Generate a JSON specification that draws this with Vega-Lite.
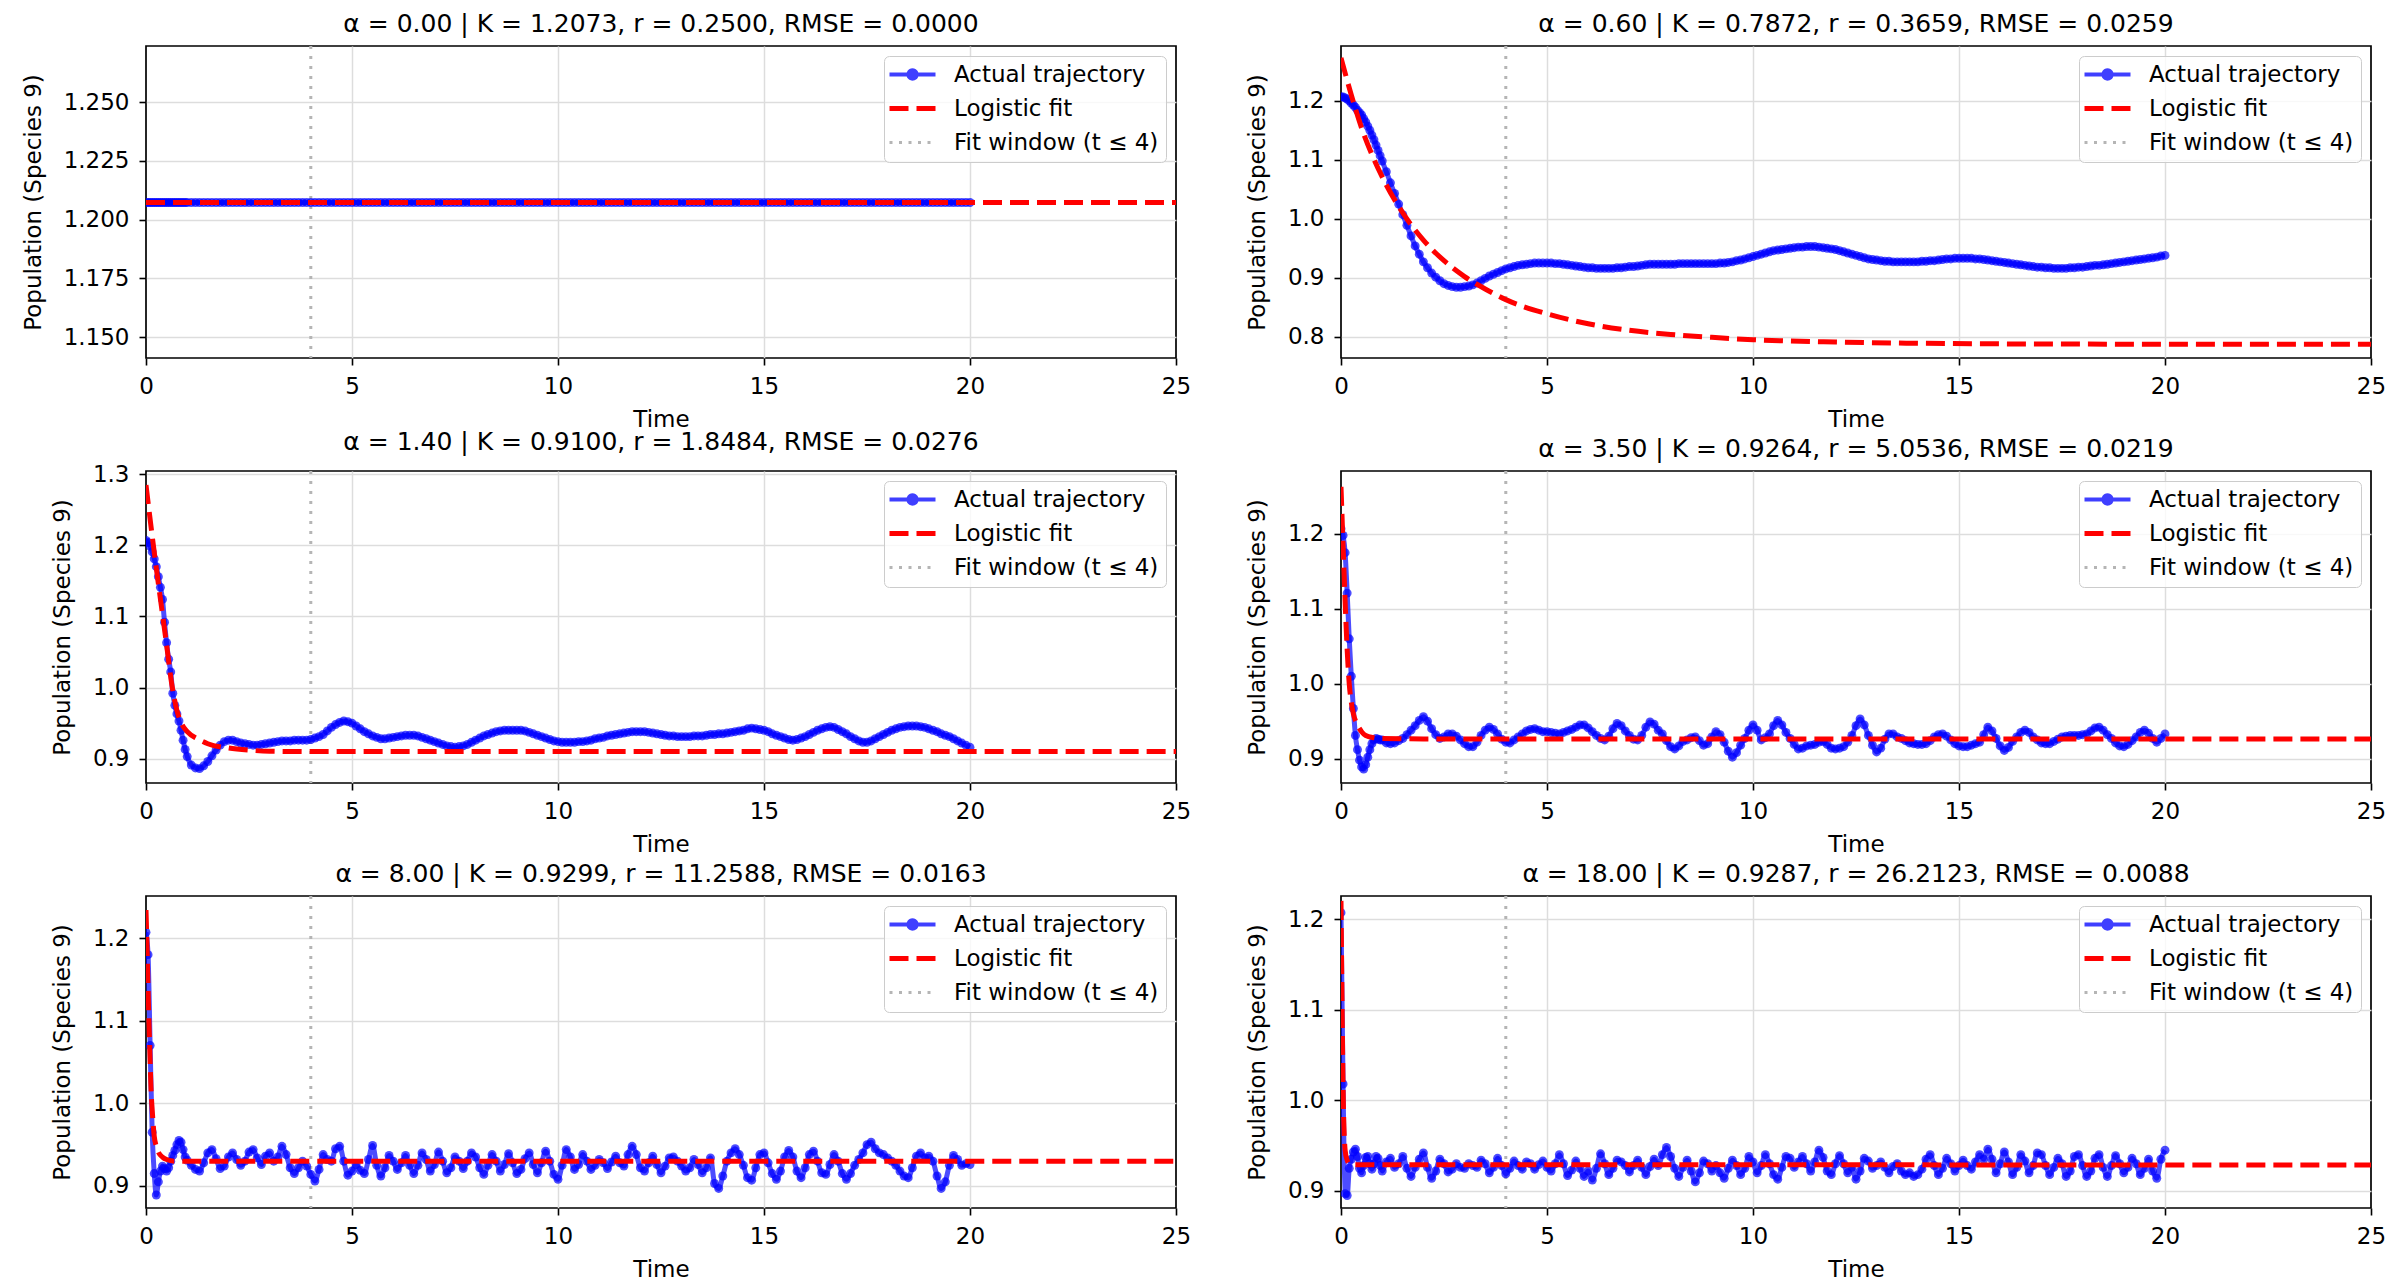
{
  "$schema": "https://vega.github.io/schema/vega-lite/v6.json",
  "background": "white",
  "padding": {"left": 21, "top": 10, "right": 0, "bottom": 0},
  "datasets": {
    "traj": [
      {"t":0,"a":1.2073,"b":1.207,"c":1.207,"d":1.207,"e":1.207,"f":1.207},
      {"t":0.05,"a":1.2073,"b":1.2065,"c":1.204,"d":1.198,"e":1.18,"f":1.018},
      {"t":0.1,"a":1.2073,"b":1.205,"c":1.199,"d":1.175,"e":1.07,"f":0.897},
      {"t":0.15,"a":1.2073,"b":1.203,"c":1.191,"d":1.121,"e":0.965,"f":0.895},
      {"t":0.2,"a":1.2073,"b":1.2,"c":1.181,"d":1.06,"e":0.915,"f":0.925},
      {"t":0.25,"a":1.2073,"b":1.196,"c":1.17,"d":1.01,"e":0.889,"f":0.935},
      {"t":0.3,"a":1.2073,"b":1.193,"c":1.156,"d":0.967,"e":0.905,"f":0.943},
      {"t":0.35,"a":1.2073,"b":1.189,"c":1.141,"d":0.931,"e":0.918,"f":0.946},
      {"t":0.4,"a":1.2073,"b":1.184,"c":1.124,"d":0.912,"e":0.924,"f":0.938},
      {"t":0.45,"a":1.2073,"b":1.18,"c":1.092,"d":0.898,"e":0.921,"f":0.925},
      {"t":0.5,"a":1.2073,"b":1.176,"c":1.063,"d":0.889,"e":0.918,"f":0.92},
      {"t":0.55,"a":1.2073,"b":1.17,"c":1.04,"d":0.886,"e":0.922,"f":0.928},
      {"t":0.6,"a":1.2073,"b":1.164,"c":1.022,"d":0.892,"e":0.93,"f":0.937},
      {"t":0.65,"a":1.2073,"b":1.157,"c":0.992,"d":0.902,"e":0.937,"f":0.938},
      {"t":0.7,"a":1.2073,"b":1.15,"c":0.975,"d":0.912,"e":0.943,"f":0.93},
      {"t":0.75,"a":1.2073,"b":1.142,"c":0.963,"d":0.92,"e":0.95,"f":0.924},
      {"t":0.8,"a":1.2073,"b":1.134,"c":0.953,"d":0.925,"e":0.955,"f":0.93},
      {"t":0.85,"a":1.2073,"b":1.125,"c":0.94,"d":0.927,"e":0.953,"f":0.938},
      {"t":0.9,"a":1.2073,"b":1.116,"c":0.926,"d":0.926,"e":0.944,"f":0.936},
      {"t":0.95,"a":1.2073,"b":1.107,"c":0.913,"d":0.925,"e":0.935,"f":0.928},
      {"t":1.0,"a":1.2073,"b":1.098,"c":0.903,"d":0.925,"e":0.931,"f":0.922},
      {"t":1.1,"a":1.2073,"b":1.08,"c":0.891,"d":0.921,"e":0.925,"f":0.932},
      {"t":1.2,"a":1.2073,"b":1.061,"c":0.887,"d":0.92,"e":0.92,"f":0.936},
      {"t":1.3,"a":1.2073,"b":1.043,"c":0.886,"d":0.921,"e":0.918,"f":0.926},
      {"t":1.4,"a":1.2073,"b":1.025,"c":0.89,"d":0.924,"e":0.928,"f":0.93},
      {"t":1.5,"a":1.2073,"b":1.007,"c":0.896,"d":0.927,"e":0.94,"f":0.938},
      {"t":1.6,"a":1.2073,"b":0.989,"c":0.904,"d":0.932,"e":0.944,"f":0.925},
      {"t":1.7,"a":1.2073,"b":0.971,"c":0.912,"d":0.938,"e":0.933,"f":0.916},
      {"t":1.8,"a":1.2073,"b":0.954,"c":0.919,"d":0.944,"e":0.921,"f":0.926},
      {"t":1.9,"a":1.2073,"b":0.94,"c":0.924,"d":0.951,"e":0.924,"f":0.935},
      {"t":2.0,"a":1.2073,"b":0.927,"c":0.926,"d":0.956,"e":0.935,"f":0.942},
      {"t":2.1,"a":1.2073,"b":0.917,"c":0.926,"d":0.95,"e":0.94,"f":0.926},
      {"t":2.2,"a":1.2073,"b":0.908,"c":0.924,"d":0.94,"e":0.932,"f":0.914},
      {"t":2.3,"a":1.2073,"b":0.901,"c":0.922,"d":0.932,"e":0.925,"f":0.922},
      {"t":2.4,"a":1.2073,"b":0.895,"c":0.921,"d":0.927,"e":0.93,"f":0.935},
      {"t":2.5,"a":1.2073,"b":0.89,"c":0.92,"d":0.929,"e":0.941,"f":0.93},
      {"t":2.6,"a":1.2073,"b":0.887,"c":0.919,"d":0.933,"e":0.944,"f":0.921},
      {"t":2.7,"a":1.2073,"b":0.885,"c":0.919,"d":0.933,"e":0.934,"f":0.924},
      {"t":2.8,"a":1.2073,"b":0.884,"c":0.92,"d":0.93,"e":0.926,"f":0.93},
      {"t":2.9,"a":1.2073,"b":0.884,"c":0.921,"d":0.925,"e":0.936,"f":0.926},
      {"t":3.0,"a":1.2073,"b":0.885,"c":0.922,"d":0.92,"e":0.94,"f":0.925},
      {"t":3.1,"a":1.2073,"b":0.886,"c":0.923,"d":0.916,"e":0.93,"f":0.93},
      {"t":3.2,"a":1.2073,"b":0.888,"c":0.924,"d":0.916,"e":0.935,"f":0.928},
      {"t":3.3,"a":1.2073,"b":0.891,"c":0.925,"d":0.922,"e":0.948,"f":0.926},
      {"t":3.4,"a":1.2073,"b":0.895,"c":0.925,"d":0.931,"e":0.938,"f":0.934},
      {"t":3.5,"a":1.2073,"b":0.899,"c":0.925,"d":0.938,"e":0.922,"f":0.93},
      {"t":3.6,"a":1.2073,"b":0.903,"c":0.926,"d":0.942,"e":0.915,"f":0.92},
      {"t":3.7,"a":1.2073,"b":0.906,"c":0.926,"d":0.939,"e":0.922,"f":0.926},
      {"t":3.8,"a":1.2073,"b":0.909,"c":0.926,"d":0.933,"e":0.93,"f":0.936},
      {"t":3.9,"a":1.2073,"b":0.912,"c":0.926,"d":0.926,"e":0.924,"f":0.928},
      {"t":4.0,"a":1.2073,"b":0.915,"c":0.927,"d":0.922,"e":0.914,"f":0.919},
      {"t":4.1,"a":1.2073,"b":0.917,"c":0.929,"d":0.921,"e":0.906,"f":0.925},
      {"t":4.2,"a":1.2073,"b":0.919,"c":0.931,"d":0.925,"e":0.92,"f":0.933},
      {"t":4.3,"a":1.2073,"b":0.921,"c":0.934,"d":0.929,"e":0.938,"f":0.928},
      {"t":4.4,"a":1.2073,"b":0.922,"c":0.939,"d":0.933,"e":0.932,"f":0.924},
      {"t":4.5,"a":1.2073,"b":0.923,"c":0.944,"d":0.937,"e":0.93,"f":0.932},
      {"t":4.6,"a":1.2073,"b":0.924,"c":0.948,"d":0.939,"e":0.945,"f":0.93},
      {"t":4.7,"a":1.2073,"b":0.925,"c":0.951,"d":0.94,"e":0.948,"f":0.924},
      {"t":4.8,"a":1.2073,"b":0.925,"c":0.953,"d":0.938,"e":0.93,"f":0.929},
      {"t":4.9,"a":1.2073,"b":0.925,"c":0.952,"d":0.936,"e":0.913,"f":0.933},
      {"t":5.0,"a":1.2073,"b":0.925,"c":0.95,"d":0.936,"e":0.918,"f":0.926},
      {"t":5.1,"a":1.2073,"b":0.925,"c":0.946,"d":0.935,"e":0.926,"f":0.922},
      {"t":5.2,"a":1.2073,"b":0.924,"c":0.942,"d":0.934,"e":0.919,"f":0.93},
      {"t":5.3,"a":1.2073,"b":0.924,"c":0.938,"d":0.933,"e":0.915,"f":0.94},
      {"t":5.4,"a":1.2073,"b":0.923,"c":0.935,"d":0.935,"e":0.932,"f":0.93},
      {"t":5.5,"a":1.2073,"b":0.922,"c":0.932,"d":0.937,"e":0.949,"f":0.917},
      {"t":5.6,"a":1.2073,"b":0.921,"c":0.93,"d":0.939,"e":0.925,"f":0.923},
      {"t":5.7,"a":1.2073,"b":0.92,"c":0.928,"d":0.942,"e":0.912,"f":0.933},
      {"t":5.8,"a":1.2073,"b":0.919,"c":0.928,"d":0.945,"e":0.922,"f":0.925},
      {"t":5.9,"a":1.2073,"b":0.918,"c":0.929,"d":0.945,"e":0.937,"f":0.916},
      {"t":6.0,"a":1.2073,"b":0.917,"c":0.93,"d":0.941,"e":0.93,"f":0.922},
      {"t":6.1,"a":1.2073,"b":0.917,"c":0.931,"d":0.936,"e":0.92,"f":0.912},
      {"t":6.2,"a":1.2073,"b":0.916,"c":0.932,"d":0.931,"e":0.928,"f":0.925},
      {"t":6.3,"a":1.2073,"b":0.916,"c":0.933,"d":0.927,"e":0.937,"f":0.941},
      {"t":6.4,"a":1.2073,"b":0.916,"c":0.933,"d":0.925,"e":0.925,"f":0.93},
      {"t":6.5,"a":1.2073,"b":0.916,"c":0.933,"d":0.93,"e":0.915,"f":0.918},
      {"t":6.6,"a":1.2073,"b":0.916,"c":0.932,"d":0.94,"e":0.925,"f":0.925},
      {"t":6.7,"a":1.2073,"b":0.917,"c":0.93,"d":0.947,"e":0.94,"f":0.934},
      {"t":6.8,"a":1.2073,"b":0.917,"c":0.928,"d":0.944,"e":0.932,"f":0.932},
      {"t":6.9,"a":1.2073,"b":0.918,"c":0.926,"d":0.937,"e":0.918,"f":0.928},
      {"t":7.0,"a":1.2073,"b":0.919,"c":0.924,"d":0.931,"e":0.926,"f":0.921},
      {"t":7.1,"a":1.2073,"b":0.919,"c":0.922,"d":0.926,"e":0.941,"f":0.928},
      {"t":7.2,"a":1.2073,"b":0.92,"c":0.92,"d":0.925,"e":0.93,"f":0.934},
      {"t":7.3,"a":1.2073,"b":0.921,"c":0.918,"d":0.931,"e":0.916,"f":0.926},
      {"t":7.4,"a":1.2073,"b":0.922,"c":0.917,"d":0.942,"e":0.922,"f":0.918},
      {"t":7.5,"a":1.2073,"b":0.923,"c":0.916,"d":0.949,"e":0.935,"f":0.927},
      {"t":7.6,"a":1.2073,"b":0.923,"c":0.917,"d":0.946,"e":0.93,"f":0.935},
      {"t":7.7,"a":1.2073,"b":0.923,"c":0.918,"d":0.938,"e":0.921,"f":0.928},
      {"t":7.8,"a":1.2073,"b":0.923,"c":0.92,"d":0.933,"e":0.93,"f":0.94},
      {"t":7.9,"a":1.2073,"b":0.923,"c":0.923,"d":0.924,"e":0.94,"f":0.948},
      {"t":8.0,"a":1.2073,"b":0.923,"c":0.926,"d":0.916,"e":0.935,"f":0.938},
      {"t":8.1,"a":1.2073,"b":0.923,"c":0.929,"d":0.913,"e":0.922,"f":0.925},
      {"t":8.2,"a":1.2073,"b":0.924,"c":0.932,"d":0.917,"e":0.914,"f":0.916},
      {"t":8.3,"a":1.2073,"b":0.924,"c":0.934,"d":0.923,"e":0.925,"f":0.926},
      {"t":8.4,"a":1.2073,"b":0.924,"c":0.936,"d":0.925,"e":0.938,"f":0.934},
      {"t":8.5,"a":1.2073,"b":0.924,"c":0.938,"d":0.928,"e":0.93,"f":0.922},
      {"t":8.6,"a":1.2073,"b":0.924,"c":0.939,"d":0.929,"e":0.918,"f":0.91},
      {"t":8.7,"a":1.2073,"b":0.924,"c":0.94,"d":0.924,"e":0.926,"f":0.92},
      {"t":8.8,"a":1.2073,"b":0.924,"c":0.94,"d":0.918,"e":0.939,"f":0.933},
      {"t":8.9,"a":1.2073,"b":0.924,"c":0.94,"d":0.92,"e":0.928,"f":0.93},
      {"t":9.0,"a":1.2073,"b":0.924,"c":0.94,"d":0.929,"e":0.915,"f":0.922},
      {"t":9.1,"a":1.2073,"b":0.924,"c":0.94,"d":0.936,"e":0.92,"f":0.928},
      {"t":9.2,"a":1.2073,"b":0.925,"c":0.939,"d":0.932,"e":0.933,"f":0.92},
      {"t":9.3,"a":1.2073,"b":0.925,"c":0.937,"d":0.922,"e":0.94,"f":0.914},
      {"t":9.4,"a":1.2073,"b":0.926,"c":0.935,"d":0.91,"e":0.926,"f":0.925},
      {"t":9.5,"a":1.2073,"b":0.927,"c":0.933,"d":0.902,"e":0.916,"f":0.934},
      {"t":9.6,"a":1.2073,"b":0.929,"c":0.931,"d":0.908,"e":0.928,"f":0.928},
      {"t":9.7,"a":1.2073,"b":0.93,"c":0.929,"d":0.918,"e":0.942,"f":0.918},
      {"t":9.8,"a":1.2073,"b":0.932,"c":0.927,"d":0.927,"e":0.93,"f":0.925},
      {"t":9.9,"a":1.2073,"b":0.934,"c":0.925,"d":0.938,"e":0.914,"f":0.938},
      {"t":10.0,"a":1.2073,"b":0.936,"c":0.924,"d":0.945,"e":0.908,"f":0.932},
      {"t":10.1,"a":1.2073,"b":0.938,"c":0.923,"d":0.938,"e":0.925,"f":0.92},
      {"t":10.2,"a":1.2073,"b":0.94,"c":0.923,"d":0.925,"e":0.944,"f":0.928},
      {"t":10.3,"a":1.2073,"b":0.942,"c":0.923,"d":0.928,"e":0.935,"f":0.94},
      {"t":10.4,"a":1.2073,"b":0.944,"c":0.923,"d":0.933,"e":0.92,"f":0.93},
      {"t":10.5,"a":1.2073,"b":0.946,"c":0.924,"d":0.944,"e":0.926,"f":0.918},
      {"t":10.6,"a":1.2073,"b":0.947,"c":0.924,"d":0.951,"e":0.938,"f":0.913},
      {"t":10.7,"a":1.2073,"b":0.948,"c":0.925,"d":0.945,"e":0.93,"f":0.926},
      {"t":10.8,"a":1.2073,"b":0.949,"c":0.926,"d":0.935,"e":0.92,"f":0.938},
      {"t":10.9,"a":1.2073,"b":0.95,"c":0.928,"d":0.927,"e":0.925,"f":0.936},
      {"t":11.0,"a":1.2073,"b":0.951,"c":0.929,"d":0.919,"e":0.932,"f":0.926},
      {"t":11.1,"a":1.2073,"b":0.952,"c":0.93,"d":0.913,"e":0.928,"f":0.932},
      {"t":11.2,"a":1.2073,"b":0.952,"c":0.932,"d":0.914,"e":0.921,"f":0.938},
      {"t":11.3,"a":1.2073,"b":0.953,"c":0.933,"d":0.917,"e":0.929,"f":0.93},
      {"t":11.4,"a":1.2073,"b":0.953,"c":0.934,"d":0.918,"e":0.936,"f":0.922},
      {"t":11.5,"a":1.2073,"b":0.953,"c":0.935,"d":0.919,"e":0.928,"f":0.932},
      {"t":11.6,"a":1.2073,"b":0.952,"c":0.936,"d":0.922,"e":0.924,"f":0.945},
      {"t":11.7,"a":1.2073,"b":0.951,"c":0.937,"d":0.923,"e":0.938,"f":0.937},
      {"t":11.8,"a":1.2073,"b":0.95,"c":0.938,"d":0.919,"e":0.948,"f":0.922},
      {"t":11.9,"a":1.2073,"b":0.949,"c":0.938,"d":0.914,"e":0.938,"f":0.918},
      {"t":12.0,"a":1.2073,"b":0.948,"c":0.938,"d":0.913,"e":0.922,"f":0.93},
      {"t":12.1,"a":1.2073,"b":0.946,"c":0.938,"d":0.914,"e":0.918,"f":0.939},
      {"t":12.2,"a":1.2073,"b":0.944,"c":0.937,"d":0.916,"e":0.928,"f":0.93},
      {"t":12.3,"a":1.2073,"b":0.942,"c":0.936,"d":0.922,"e":0.936,"f":0.92},
      {"t":12.4,"a":1.2073,"b":0.94,"c":0.935,"d":0.931,"e":0.926,"f":0.926},
      {"t":12.5,"a":1.2073,"b":0.938,"c":0.934,"d":0.944,"e":0.916,"f":0.913},
      {"t":12.6,"a":1.2073,"b":0.936,"c":0.933,"d":0.953,"e":0.924,"f":0.922},
      {"t":12.7,"a":1.2073,"b":0.934,"c":0.932,"d":0.945,"e":0.934,"f":0.936},
      {"t":12.8,"a":1.2073,"b":0.932,"c":0.932,"d":0.931,"e":0.935,"f":0.933},
      {"t":12.9,"a":1.2073,"b":0.931,"c":0.931,"d":0.918,"e":0.93,"f":0.925},
      {"t":13.0,"a":1.2073,"b":0.93,"c":0.931,"d":0.909,"e":0.924,"f":0.928},
      {"t":13.1,"a":1.2073,"b":0.929,"c":0.931,"d":0.914,"e":0.918,"f":0.932},
      {"t":13.2,"a":1.2073,"b":0.928,"c":0.931,"d":0.926,"e":0.922,"f":0.926},
      {"t":13.3,"a":1.2073,"b":0.928,"c":0.932,"d":0.933,"e":0.932,"f":0.92},
      {"t":13.4,"a":1.2073,"b":0.927,"c":0.932,"d":0.933,"e":0.926,"f":0.927},
      {"t":13.5,"a":1.2073,"b":0.927,"c":0.932,"d":0.929,"e":0.916,"f":0.93},
      {"t":13.6,"a":1.2073,"b":0.927,"c":0.933,"d":0.927,"e":0.922,"f":0.922},
      {"t":13.7,"a":1.2073,"b":0.927,"c":0.934,"d":0.924,"e":0.934,"f":0.918},
      {"t":13.8,"a":1.2073,"b":0.927,"c":0.934,"d":0.921,"e":0.903,"f":0.92},
      {"t":13.9,"a":1.2073,"b":0.927,"c":0.935,"d":0.92,"e":0.897,"f":0.916},
      {"t":14.0,"a":1.2073,"b":0.927,"c":0.935,"d":0.919,"e":0.912,"f":0.918},
      {"t":14.1,"a":1.2073,"b":0.928,"c":0.936,"d":0.919,"e":0.93,"f":0.924},
      {"t":14.2,"a":1.2073,"b":0.928,"c":0.937,"d":0.92,"e":0.94,"f":0.935},
      {"t":14.3,"a":1.2073,"b":0.929,"c":0.938,"d":0.924,"e":0.945,"f":0.94},
      {"t":14.4,"a":1.2073,"b":0.929,"c":0.939,"d":0.929,"e":0.938,"f":0.928},
      {"t":14.5,"a":1.2073,"b":0.93,"c":0.94,"d":0.932,"e":0.925,"f":0.918},
      {"t":14.6,"a":1.2073,"b":0.931,"c":0.942,"d":0.933,"e":0.91,"f":0.925},
      {"t":14.7,"a":1.2073,"b":0.932,"c":0.943,"d":0.93,"e":0.907,"f":0.936},
      {"t":14.8,"a":1.2073,"b":0.932,"c":0.942,"d":0.925,"e":0.922,"f":0.93},
      {"t":14.9,"a":1.2073,"b":0.933,"c":0.941,"d":0.92,"e":0.938,"f":0.922},
      {"t":15.0,"a":1.2073,"b":0.933,"c":0.94,"d":0.917,"e":0.94,"f":0.928},
      {"t":15.1,"a":1.2073,"b":0.933,"c":0.938,"d":0.916,"e":0.928,"f":0.934},
      {"t":15.2,"a":1.2073,"b":0.933,"c":0.935,"d":0.916,"e":0.915,"f":0.928},
      {"t":15.3,"a":1.2073,"b":0.933,"c":0.933,"d":0.918,"e":0.908,"f":0.924},
      {"t":15.4,"a":1.2073,"b":0.932,"c":0.931,"d":0.92,"e":0.918,"f":0.932},
      {"t":15.5,"a":1.2073,"b":0.932,"c":0.929,"d":0.922,"e":0.935,"f":0.94},
      {"t":15.6,"a":1.2073,"b":0.931,"c":0.927,"d":0.932,"e":0.943,"f":0.935},
      {"t":15.7,"a":1.2073,"b":0.93,"c":0.926,"d":0.942,"e":0.935,"f":0.946},
      {"t":15.8,"a":1.2073,"b":0.929,"c":0.927,"d":0.937,"e":0.918,"f":0.935},
      {"t":15.9,"a":1.2073,"b":0.928,"c":0.929,"d":0.927,"e":0.91,"f":0.92},
      {"t":16.0,"a":1.2073,"b":0.927,"c":0.931,"d":0.917,"e":0.922,"f":0.93},
      {"t":16.1,"a":1.2073,"b":0.926,"c":0.934,"d":0.911,"e":0.938,"f":0.943},
      {"t":16.2,"a":1.2073,"b":0.925,"c":0.937,"d":0.915,"e":0.942,"f":0.932},
      {"t":16.3,"a":1.2073,"b":0.924,"c":0.94,"d":0.923,"e":0.93,"f":0.918},
      {"t":16.4,"a":1.2073,"b":0.923,"c":0.942,"d":0.929,"e":0.916,"f":0.926},
      {"t":16.5,"a":1.2073,"b":0.922,"c":0.944,"d":0.935,"e":0.914,"f":0.94},
      {"t":16.6,"a":1.2073,"b":0.921,"c":0.945,"d":0.938,"e":0.926,"f":0.933},
      {"t":16.7,"a":1.2073,"b":0.92,"c":0.944,"d":0.935,"e":0.938,"f":0.92},
      {"t":16.8,"a":1.2073,"b":0.919,"c":0.941,"d":0.929,"e":0.93,"f":0.928},
      {"t":16.9,"a":1.2073,"b":0.918,"c":0.938,"d":0.925,"e":0.915,"f":0.942},
      {"t":17.0,"a":1.2073,"b":0.918,"c":0.935,"d":0.921,"e":0.908,"f":0.94},
      {"t":17.1,"a":1.2073,"b":0.917,"c":0.931,"d":0.92,"e":0.915,"f":0.928},
      {"t":17.2,"a":1.2073,"b":0.917,"c":0.928,"d":0.92,"e":0.925,"f":0.918},
      {"t":17.3,"a":1.2073,"b":0.916,"c":0.925,"d":0.923,"e":0.932,"f":0.926},
      {"t":17.4,"a":1.2073,"b":0.916,"c":0.923,"d":0.926,"e":0.94,"f":0.936},
      {"t":17.5,"a":1.2073,"b":0.916,"c":0.923,"d":0.929,"e":0.95,"f":0.93},
      {"t":17.6,"a":1.2073,"b":0.916,"c":0.925,"d":0.93,"e":0.953,"f":0.916},
      {"t":17.7,"a":1.2073,"b":0.917,"c":0.928,"d":0.931,"e":0.945,"f":0.922},
      {"t":17.8,"a":1.2073,"b":0.917,"c":0.931,"d":0.931,"e":0.94,"f":0.938},
      {"t":17.9,"a":1.2073,"b":0.918,"c":0.934,"d":0.931,"e":0.938,"f":0.94},
      {"t":18.0,"a":1.2073,"b":0.918,"c":0.937,"d":0.932,"e":0.934,"f":0.928},
      {"t":18.1,"a":1.2073,"b":0.919,"c":0.94,"d":0.933,"e":0.93,"f":0.916},
      {"t":18.2,"a":1.2073,"b":0.92,"c":0.942,"d":0.937,"e":0.925,"f":0.922},
      {"t":18.3,"a":1.2073,"b":0.921,"c":0.944,"d":0.941,"e":0.918,"f":0.936},
      {"t":18.4,"a":1.2073,"b":0.921,"c":0.945,"d":0.942,"e":0.912,"f":0.94},
      {"t":18.5,"a":1.2073,"b":0.922,"c":0.946,"d":0.938,"e":0.91,"f":0.926},
      {"t":18.6,"a":1.2073,"b":0.923,"c":0.946,"d":0.932,"e":0.922,"f":0.916},
      {"t":18.7,"a":1.2073,"b":0.924,"c":0.946,"d":0.927,"e":0.936,"f":0.928},
      {"t":18.8,"a":1.2073,"b":0.925,"c":0.945,"d":0.921,"e":0.94,"f":0.939},
      {"t":18.9,"a":1.2073,"b":0.926,"c":0.944,"d":0.917,"e":0.934,"f":0.93},
      {"t":19.0,"a":1.2073,"b":0.927,"c":0.942,"d":0.916,"e":0.936,"f":0.92},
      {"t":19.1,"a":1.2073,"b":0.928,"c":0.94,"d":0.919,"e":0.93,"f":0.926},
      {"t":19.2,"a":1.2073,"b":0.929,"c":0.938,"d":0.924,"e":0.912,"f":0.936},
      {"t":19.3,"a":1.2073,"b":0.93,"c":0.935,"d":0.929,"e":0.897,"f":0.93},
      {"t":19.4,"a":1.2073,"b":0.931,"c":0.933,"d":0.935,"e":0.905,"f":0.918},
      {"t":19.5,"a":1.2073,"b":0.932,"c":0.931,"d":0.938,"e":0.925,"f":0.925},
      {"t":19.6,"a":1.2073,"b":0.933,"c":0.928,"d":0.934,"e":0.937,"f":0.935},
      {"t":19.7,"a":1.2073,"b":0.934,"c":0.925,"d":0.927,"e":0.932,"f":0.922},
      {"t":19.8,"a":1.2073,"b":0.935,"c":0.922,"d":0.922,"e":0.925,"f":0.914},
      {"t":19.9,"a":1.2073,"b":0.937,"c":0.919,"d":0.927,"e":0.927,"f":0.935},
      {"t":20.0,"a":1.2073,"b":0.938,"c":0.916,"d":0.933,"e":0.926,"f":0.945}
    ],
    "fit": [
      {"p":1,"t":0,"y":1.2073},{"p":1,"t":25,"y":1.2073},
      {"p":2,"t":0,"y":1.273},{"p":2,"t":0.25,"y":1.21},{"p":2,"t":0.5,"y":1.154},{"p":2,"t":0.75,"y":1.109},
      {"p":2,"t":1,"y":1.071},{"p":2,"t":1.5,"y":1.01},{"p":2,"t":2,"y":0.964},{"p":2,"t":2.5,"y":0.929},
      {"p":2,"t":3,"y":0.902},{"p":2,"t":3.5,"y":0.881},{"p":2,"t":4,"y":0.863},{"p":2,"t":5,"y":0.839},
      {"p":2,"t":6,"y":0.822},{"p":2,"t":7,"y":0.811},{"p":2,"t":8,"y":0.804},{"p":2,"t":9,"y":0.799},
      {"p":2,"t":10,"y":0.795},{"p":2,"t":12,"y":0.791},{"p":2,"t":14,"y":0.789},{"p":2,"t":16,"y":0.788},
      {"p":2,"t":18,"y":0.7876},{"p":2,"t":20,"y":0.7874},{"p":2,"t":25,"y":0.7872},
      {"p":3,"t":0,"y":1.285},{"p":3,"t":0.125,"y":1.225},{"p":3,"t":0.25,"y":1.168},{"p":3,"t":0.375,"y":1.114},
      {"p":3,"t":0.5,"y":1.06},{"p":3,"t":0.625,"y":1.005},{"p":3,"t":0.75,"y":0.968},{"p":3,"t":0.875,"y":0.948},
      {"p":3,"t":1,"y":0.938},{"p":3,"t":1.25,"y":0.928},{"p":3,"t":1.5,"y":0.921},{"p":3,"t":2,"y":0.915},
      {"p":3,"t":2.5,"y":0.912},{"p":3,"t":3,"y":0.9105},{"p":3,"t":4,"y":0.91},{"p":3,"t":25,"y":0.91},
      {"p":4,"t":0,"y":1.263},{"p":4,"t":0.05,"y":1.185},{"p":4,"t":0.1,"y":1.11},{"p":4,"t":0.15,"y":1.045},
      {"p":4,"t":0.2,"y":1.0},{"p":4,"t":0.25,"y":0.975},{"p":4,"t":0.3,"y":0.96},{"p":4,"t":0.4,"y":0.945},
      {"p":4,"t":0.5,"y":0.936},{"p":4,"t":0.6,"y":0.931},{"p":4,"t":0.8,"y":0.928},{"p":4,"t":1,"y":0.927},
      {"p":4,"t":2,"y":0.9264},{"p":4,"t":25,"y":0.9264},
      {"p":5,"t":0,"y":1.234},{"p":5,"t":0.03,"y":1.18},{"p":5,"t":0.06,"y":1.12},{"p":5,"t":0.09,"y":1.068},
      {"p":5,"t":0.12,"y":1.02},{"p":5,"t":0.16,"y":0.985},{"p":5,"t":0.2,"y":0.96},{"p":5,"t":0.25,"y":0.948},
      {"p":5,"t":0.3,"y":0.941},{"p":5,"t":0.4,"y":0.935},{"p":5,"t":0.5,"y":0.932},{"p":5,"t":0.7,"y":0.93},
      {"p":5,"t":1,"y":0.9299},{"p":5,"t":25,"y":0.9299},
      {"p":6,"t":0,"y":1.22},{"p":6,"t":0.02,"y":1.13},{"p":6,"t":0.04,"y":1.05},{"p":6,"t":0.06,"y":0.99},
      {"p":6,"t":0.08,"y":0.96},{"p":6,"t":0.1,"y":0.945},{"p":6,"t":0.15,"y":0.934},{"p":6,"t":0.2,"y":0.93},
      {"p":6,"t":0.3,"y":0.929},{"p":6,"t":25,"y":0.9287}
    ]
  },
  "columns": 2,
  "spacing": {"row": 113, "column": 165},
  "bounds": "flush",
  "resolve": {
    "scale": {"x": "independent", "y": "independent", "color": "independent"},
    "axis": {"x": "independent", "y": "independent"},
    "legend": {"color": "independent"}
  },
  "concat": [
    {
      "title": "α = 0.00 | K = 1.2073, r = 0.2500, RMSE = 0.0000",
      "width": 1030, "height": 312,
      "encoding": {"x": {"field": "t", "type": "quantitative", "title": "Time", "scale": {"domain": [0, 25], "nice": false, "zero": false}, "axis": {"values": [0, 5, 10, 15, 20, 25], "gridOpacity": {"condition": {"test": "datum.value == 0 || datum.value == 25", "value": 0}, "value": 1}}}},
      "layer": [
        {"data": {"values": [{"t": 4}]}, "mark": {"type": "rule", "strokeDash": [3, 7], "strokeWidth": 3},
         "encoding": {"color": {"datum": "Fit window (t ≤ 4)", "scale": {"domain": ["Actual trajectory", "Logistic fit", "Fit window (t ≤ 4)"], "range": ["#0000ff", "#ff0000", "#b5b5b5"]},
           "legend": {"title": null, "orient": "top-right", "offset": 10, "padding": 7, "rowPadding": 10, "fillColor": "rgba(255,255,255,0.8)", "strokeColor": "#cccccc", "cornerRadius": 5, "symbolSize": 529, "symbolOffset": 10, "labelOffset": 30, "labelFontSize": 23, "labelColor": "black", "labelLimit": 400,
             "encode": {"symbols": {"update": {
               "shape": {"signal": "datum.value === 'Actual trajectory' ? 'M-2,0H2M0.36,0A0.36,0.36,0,1,1,-0.36,0A0.36,0.36,0,1,1,0.36,0' : 'M-2,0H2'"},
               "fill": {"signal": "datum.value === 'Actual trajectory' ? '#0000ff' : 'transparent'"},
               "stroke": {"signal": "datum.value === 'Actual trajectory' ? '#0000ff' : datum.value === 'Logistic fit' ? '#ff0000' : '#b5b5b5'"},
               "strokeWidth": {"signal": "datum.value === 'Logistic fit' ? 5 : datum.value === 'Actual trajectory' ? 4 : 3"},
               "strokeDash": {"signal": "datum.value === 'Logistic fit' ? [19, 8] : datum.value === 'Actual trajectory' ? [1, 0] : [3, 6.5]"},
               "opacity": {"signal": "datum.value === 'Actual trajectory' ? 0.75 : 1"}
             }}}}}}},
        {"data": {"name": "traj"}, "mark": {"type": "line", "strokeWidth": 5, "opacity": 0.7, "interpolate": "monotone", "clip": true},
         "encoding": {"y": {"field": "a", "type": "quantitative", "title": "Population (Species 9)", "scale": {"domain": [1.1412, 1.2738], "nice": false, "zero": false}, "axis": {"values": [1.15, 1.175, 1.2, 1.225, 1.25], "format": ".3f"}},
           "color": {"datum": "Actual trajectory", "scale": {"domain": ["Actual trajectory", "Logistic fit", "Fit window (t ≤ 4)"], "range": ["#0000ff", "#ff0000", "#b5b5b5"]}}}},
        {"data": {"name": "traj"}, "mark": {"type": "point", "filled": true, "size": 80, "opacity": 0.7, "strokeWidth": 0, "clip": true},
         "encoding": {"y": {"field": "a", "type": "quantitative", "title": "Population (Species 9)"},
           "color": {"datum": "Actual trajectory", "scale": {"domain": ["Actual trajectory", "Logistic fit", "Fit window (t ≤ 4)"], "range": ["#0000ff", "#ff0000", "#b5b5b5"]}}}},
        {"data": {"name": "fit"}, "transform": [{"filter": "datum.p == 1"}], "mark": {"type": "line", "strokeWidth": 5, "strokeDash": [19, 8], "interpolate": "monotone", "clip": true},
         "encoding": {"y": {"field": "y", "type": "quantitative", "title": "Population (Species 9)"},
           "color": {"datum": "Logistic fit", "scale": {"domain": ["Actual trajectory", "Logistic fit", "Fit window (t ≤ 4)"], "range": ["#0000ff", "#ff0000", "#b5b5b5"]}}}}
      ]
    },
    {
      "title": "α = 0.60 | K = 0.7872, r = 0.3659, RMSE = 0.0259",
      "width": 1030, "height": 312,
      "encoding": {"x": {"field": "t", "type": "quantitative", "title": "Time", "scale": {"domain": [0, 25], "nice": false, "zero": false}, "axis": {"values": [0, 5, 10, 15, 20, 25], "gridOpacity": {"condition": {"test": "datum.value == 0 || datum.value == 25", "value": 0}, "value": 1}}}},
      "layer": [
        {"data": {"values": [{"t": 4}]}, "mark": {"type": "rule", "strokeDash": [3, 7], "strokeWidth": 3},
         "encoding": {"color": {"datum": "Fit window (t ≤ 4)", "scale": {"domain": ["Actual trajectory", "Logistic fit", "Fit window (t ≤ 4)"], "range": ["#0000ff", "#ff0000", "#b5b5b5"]},
           "legend": {"title": null, "orient": "top-right", "offset": 10, "padding": 7, "rowPadding": 10, "fillColor": "rgba(255,255,255,0.8)", "strokeColor": "#cccccc", "cornerRadius": 5, "symbolSize": 529, "symbolOffset": 10, "labelOffset": 30, "labelFontSize": 23, "labelColor": "black", "labelLimit": 400,
             "encode": {"symbols": {"update": {
               "shape": {"signal": "datum.value === 'Actual trajectory' ? 'M-2,0H2M0.36,0A0.36,0.36,0,1,1,-0.36,0A0.36,0.36,0,1,1,0.36,0' : 'M-2,0H2'"},
               "fill": {"signal": "datum.value === 'Actual trajectory' ? '#0000ff' : 'transparent'"},
               "stroke": {"signal": "datum.value === 'Actual trajectory' ? '#0000ff' : datum.value === 'Logistic fit' ? '#ff0000' : '#b5b5b5'"},
               "strokeWidth": {"signal": "datum.value === 'Logistic fit' ? 5 : datum.value === 'Actual trajectory' ? 4 : 3"},
               "strokeDash": {"signal": "datum.value === 'Logistic fit' ? [19, 8] : datum.value === 'Actual trajectory' ? [1, 0] : [3, 6.5]"},
               "opacity": {"signal": "datum.value === 'Actual trajectory' ? 0.75 : 1"}
             }}}}}}},
        {"data": {"name": "traj"}, "mark": {"type": "line", "strokeWidth": 5, "opacity": 0.7, "interpolate": "monotone", "clip": true},
         "encoding": {"y": {"field": "b", "type": "quantitative", "title": "Population (Species 9)", "scale": {"domain": [0.764, 1.293], "nice": false, "zero": false}, "axis": {"values": [0.8, 0.9, 1.0, 1.1, 1.2], "format": ".1f"}},
           "color": {"datum": "Actual trajectory", "scale": {"domain": ["Actual trajectory", "Logistic fit", "Fit window (t ≤ 4)"], "range": ["#0000ff", "#ff0000", "#b5b5b5"]}}}},
        {"data": {"name": "traj"}, "mark": {"type": "point", "filled": true, "size": 80, "opacity": 0.7, "strokeWidth": 0, "clip": true},
         "encoding": {"y": {"field": "b", "type": "quantitative", "title": "Population (Species 9)"},
           "color": {"datum": "Actual trajectory", "scale": {"domain": ["Actual trajectory", "Logistic fit", "Fit window (t ≤ 4)"], "range": ["#0000ff", "#ff0000", "#b5b5b5"]}}}},
        {"data": {"name": "fit"}, "transform": [{"filter": "datum.p == 2"}], "mark": {"type": "line", "strokeWidth": 5, "strokeDash": [19, 8], "interpolate": "monotone", "clip": true},
         "encoding": {"y": {"field": "y", "type": "quantitative", "title": "Population (Species 9)"},
           "color": {"datum": "Logistic fit", "scale": {"domain": ["Actual trajectory", "Logistic fit", "Fit window (t ≤ 4)"], "range": ["#0000ff", "#ff0000", "#b5b5b5"]}}}}
      ]
    },
    {
      "title": "α = 1.40 | K = 0.9100, r = 1.8484, RMSE = 0.0276",
      "width": 1030, "height": 312,
      "encoding": {"x": {"field": "t", "type": "quantitative", "title": "Time", "scale": {"domain": [0, 25], "nice": false, "zero": false}, "axis": {"values": [0, 5, 10, 15, 20, 25], "gridOpacity": {"condition": {"test": "datum.value == 0 || datum.value == 25", "value": 0}, "value": 1}}}},
      "layer": [
        {"data": {"values": [{"t": 4}]}, "mark": {"type": "rule", "strokeDash": [3, 7], "strokeWidth": 3},
         "encoding": {"color": {"datum": "Fit window (t ≤ 4)", "scale": {"domain": ["Actual trajectory", "Logistic fit", "Fit window (t ≤ 4)"], "range": ["#0000ff", "#ff0000", "#b5b5b5"]},
           "legend": {"title": null, "orient": "top-right", "offset": 10, "padding": 7, "rowPadding": 10, "fillColor": "rgba(255,255,255,0.8)", "strokeColor": "#cccccc", "cornerRadius": 5, "symbolSize": 529, "symbolOffset": 10, "labelOffset": 30, "labelFontSize": 23, "labelColor": "black", "labelLimit": 400,
             "encode": {"symbols": {"update": {
               "shape": {"signal": "datum.value === 'Actual trajectory' ? 'M-2,0H2M0.36,0A0.36,0.36,0,1,1,-0.36,0A0.36,0.36,0,1,1,0.36,0' : 'M-2,0H2'"},
               "fill": {"signal": "datum.value === 'Actual trajectory' ? '#0000ff' : 'transparent'"},
               "stroke": {"signal": "datum.value === 'Actual trajectory' ? '#0000ff' : datum.value === 'Logistic fit' ? '#ff0000' : '#b5b5b5'"},
               "strokeWidth": {"signal": "datum.value === 'Logistic fit' ? 5 : datum.value === 'Actual trajectory' ? 4 : 3"},
               "strokeDash": {"signal": "datum.value === 'Logistic fit' ? [19, 8] : datum.value === 'Actual trajectory' ? [1, 0] : [3, 6.5]"},
               "opacity": {"signal": "datum.value === 'Actual trajectory' ? 0.75 : 1"}
             }}}}}}},
        {"data": {"name": "traj"}, "mark": {"type": "line", "strokeWidth": 5, "opacity": 0.7, "interpolate": "monotone", "clip": true},
         "encoding": {"y": {"field": "c", "type": "quantitative", "title": "Population (Species 9)", "scale": {"domain": [0.8658, 1.3046], "nice": false, "zero": false}, "axis": {"values": [0.9, 1.0, 1.1, 1.2, 1.3], "format": ".1f"}},
           "color": {"datum": "Actual trajectory", "scale": {"domain": ["Actual trajectory", "Logistic fit", "Fit window (t ≤ 4)"], "range": ["#0000ff", "#ff0000", "#b5b5b5"]}}}},
        {"data": {"name": "traj"}, "mark": {"type": "point", "filled": true, "size": 80, "opacity": 0.7, "strokeWidth": 0, "clip": true},
         "encoding": {"y": {"field": "c", "type": "quantitative", "title": "Population (Species 9)"},
           "color": {"datum": "Actual trajectory", "scale": {"domain": ["Actual trajectory", "Logistic fit", "Fit window (t ≤ 4)"], "range": ["#0000ff", "#ff0000", "#b5b5b5"]}}}},
        {"data": {"name": "fit"}, "transform": [{"filter": "datum.p == 3"}], "mark": {"type": "line", "strokeWidth": 5, "strokeDash": [19, 8], "interpolate": "monotone", "clip": true},
         "encoding": {"y": {"field": "y", "type": "quantitative", "title": "Population (Species 9)"},
           "color": {"datum": "Logistic fit", "scale": {"domain": ["Actual trajectory", "Logistic fit", "Fit window (t ≤ 4)"], "range": ["#0000ff", "#ff0000", "#b5b5b5"]}}}}
      ]
    },
    {
      "title": "α = 3.50 | K = 0.9264, r = 5.0536, RMSE = 0.0219",
      "width": 1030, "height": 312,
      "encoding": {"x": {"field": "t", "type": "quantitative", "title": "Time", "scale": {"domain": [0, 25], "nice": false, "zero": false}, "axis": {"values": [0, 5, 10, 15, 20, 25], "gridOpacity": {"condition": {"test": "datum.value == 0 || datum.value == 25", "value": 0}, "value": 1}}}},
      "layer": [
        {"data": {"values": [{"t": 4}]}, "mark": {"type": "rule", "strokeDash": [3, 7], "strokeWidth": 3},
         "encoding": {"color": {"datum": "Fit window (t ≤ 4)", "scale": {"domain": ["Actual trajectory", "Logistic fit", "Fit window (t ≤ 4)"], "range": ["#0000ff", "#ff0000", "#b5b5b5"]},
           "legend": {"title": null, "orient": "top-right", "offset": 10, "padding": 7, "rowPadding": 10, "fillColor": "rgba(255,255,255,0.8)", "strokeColor": "#cccccc", "cornerRadius": 5, "symbolSize": 529, "symbolOffset": 10, "labelOffset": 30, "labelFontSize": 23, "labelColor": "black", "labelLimit": 400,
             "encode": {"symbols": {"update": {
               "shape": {"signal": "datum.value === 'Actual trajectory' ? 'M-2,0H2M0.36,0A0.36,0.36,0,1,1,-0.36,0A0.36,0.36,0,1,1,0.36,0' : 'M-2,0H2'"},
               "fill": {"signal": "datum.value === 'Actual trajectory' ? '#0000ff' : 'transparent'"},
               "stroke": {"signal": "datum.value === 'Actual trajectory' ? '#0000ff' : datum.value === 'Logistic fit' ? '#ff0000' : '#b5b5b5'"},
               "strokeWidth": {"signal": "datum.value === 'Logistic fit' ? 5 : datum.value === 'Actual trajectory' ? 4 : 3"},
               "strokeDash": {"signal": "datum.value === 'Logistic fit' ? [19, 8] : datum.value === 'Actual trajectory' ? [1, 0] : [3, 6.5]"},
               "opacity": {"signal": "datum.value === 'Actual trajectory' ? 0.75 : 1"}
             }}}}}}},
        {"data": {"name": "traj"}, "mark": {"type": "line", "strokeWidth": 5, "opacity": 0.7, "interpolate": "monotone", "clip": true},
         "encoding": {"y": {"field": "d", "type": "quantitative", "title": "Population (Species 9)", "scale": {"domain": [0.8675, 1.284], "nice": false, "zero": false}, "axis": {"values": [0.9, 1.0, 1.1, 1.2], "format": ".1f"}},
           "color": {"datum": "Actual trajectory", "scale": {"domain": ["Actual trajectory", "Logistic fit", "Fit window (t ≤ 4)"], "range": ["#0000ff", "#ff0000", "#b5b5b5"]}}}},
        {"data": {"name": "traj"}, "mark": {"type": "point", "filled": true, "size": 80, "opacity": 0.7, "strokeWidth": 0, "clip": true},
         "encoding": {"y": {"field": "d", "type": "quantitative", "title": "Population (Species 9)"},
           "color": {"datum": "Actual trajectory", "scale": {"domain": ["Actual trajectory", "Logistic fit", "Fit window (t ≤ 4)"], "range": ["#0000ff", "#ff0000", "#b5b5b5"]}}}},
        {"data": {"name": "fit"}, "transform": [{"filter": "datum.p == 4"}], "mark": {"type": "line", "strokeWidth": 5, "strokeDash": [19, 8], "interpolate": "monotone", "clip": true},
         "encoding": {"y": {"field": "y", "type": "quantitative", "title": "Population (Species 9)"},
           "color": {"datum": "Logistic fit", "scale": {"domain": ["Actual trajectory", "Logistic fit", "Fit window (t ≤ 4)"], "range": ["#0000ff", "#ff0000", "#b5b5b5"]}}}}
      ]
    },
    {
      "title": "α = 8.00 | K = 0.9299, r = 11.2588, RMSE = 0.0163",
      "width": 1030, "height": 312,
      "encoding": {"x": {"field": "t", "type": "quantitative", "title": "Time", "scale": {"domain": [0, 25], "nice": false, "zero": false}, "axis": {"values": [0, 5, 10, 15, 20, 25], "gridOpacity": {"condition": {"test": "datum.value == 0 || datum.value == 25", "value": 0}, "value": 1}}}},
      "layer": [
        {"data": {"values": [{"t": 4}]}, "mark": {"type": "rule", "strokeDash": [3, 7], "strokeWidth": 3},
         "encoding": {"color": {"datum": "Fit window (t ≤ 4)", "scale": {"domain": ["Actual trajectory", "Logistic fit", "Fit window (t ≤ 4)"], "range": ["#0000ff", "#ff0000", "#b5b5b5"]},
           "legend": {"title": null, "orient": "top-right", "offset": 10, "padding": 7, "rowPadding": 10, "fillColor": "rgba(255,255,255,0.8)", "strokeColor": "#cccccc", "cornerRadius": 5, "symbolSize": 529, "symbolOffset": 10, "labelOffset": 30, "labelFontSize": 23, "labelColor": "black", "labelLimit": 400,
             "encode": {"symbols": {"update": {
               "shape": {"signal": "datum.value === 'Actual trajectory' ? 'M-2,0H2M0.36,0A0.36,0.36,0,1,1,-0.36,0A0.36,0.36,0,1,1,0.36,0' : 'M-2,0H2'"},
               "fill": {"signal": "datum.value === 'Actual trajectory' ? '#0000ff' : 'transparent'"},
               "stroke": {"signal": "datum.value === 'Actual trajectory' ? '#0000ff' : datum.value === 'Logistic fit' ? '#ff0000' : '#b5b5b5'"},
               "strokeWidth": {"signal": "datum.value === 'Logistic fit' ? 5 : datum.value === 'Actual trajectory' ? 4 : 3"},
               "strokeDash": {"signal": "datum.value === 'Logistic fit' ? [19, 8] : datum.value === 'Actual trajectory' ? [1, 0] : [3, 6.5]"},
               "opacity": {"signal": "datum.value === 'Actual trajectory' ? 0.75 : 1"}
             }}}}}}},
        {"data": {"name": "traj"}, "mark": {"type": "line", "strokeWidth": 5, "opacity": 0.7, "interpolate": "monotone", "clip": true},
         "encoding": {"y": {"field": "e", "type": "quantitative", "title": "Population (Species 9)", "scale": {"domain": [0.8733, 1.251], "nice": false, "zero": false}, "axis": {"values": [0.9, 1.0, 1.1, 1.2], "format": ".1f"}},
           "color": {"datum": "Actual trajectory", "scale": {"domain": ["Actual trajectory", "Logistic fit", "Fit window (t ≤ 4)"], "range": ["#0000ff", "#ff0000", "#b5b5b5"]}}}},
        {"data": {"name": "traj"}, "mark": {"type": "point", "filled": true, "size": 80, "opacity": 0.7, "strokeWidth": 0, "clip": true},
         "encoding": {"y": {"field": "e", "type": "quantitative", "title": "Population (Species 9)"},
           "color": {"datum": "Actual trajectory", "scale": {"domain": ["Actual trajectory", "Logistic fit", "Fit window (t ≤ 4)"], "range": ["#0000ff", "#ff0000", "#b5b5b5"]}}}},
        {"data": {"name": "fit"}, "transform": [{"filter": "datum.p == 5"}], "mark": {"type": "line", "strokeWidth": 5, "strokeDash": [19, 8], "interpolate": "monotone", "clip": true},
         "encoding": {"y": {"field": "y", "type": "quantitative", "title": "Population (Species 9)"},
           "color": {"datum": "Logistic fit", "scale": {"domain": ["Actual trajectory", "Logistic fit", "Fit window (t ≤ 4)"], "range": ["#0000ff", "#ff0000", "#b5b5b5"]}}}}
      ]
    },
    {
      "title": "α = 18.00 | K = 0.9287, r = 26.2123, RMSE = 0.0088",
      "width": 1030, "height": 312,
      "encoding": {"x": {"field": "t", "type": "quantitative", "title": "Time", "scale": {"domain": [0, 25], "nice": false, "zero": false}, "axis": {"values": [0, 5, 10, 15, 20, 25], "gridOpacity": {"condition": {"test": "datum.value == 0 || datum.value == 25", "value": 0}, "value": 1}}}},
      "layer": [
        {"data": {"values": [{"t": 4}]}, "mark": {"type": "rule", "strokeDash": [3, 7], "strokeWidth": 3},
         "encoding": {"color": {"datum": "Fit window (t ≤ 4)", "scale": {"domain": ["Actual trajectory", "Logistic fit", "Fit window (t ≤ 4)"], "range": ["#0000ff", "#ff0000", "#b5b5b5"]},
           "legend": {"title": null, "orient": "top-right", "offset": 10, "padding": 7, "rowPadding": 10, "fillColor": "rgba(255,255,255,0.8)", "strokeColor": "#cccccc", "cornerRadius": 5, "symbolSize": 529, "symbolOffset": 10, "labelOffset": 30, "labelFontSize": 23, "labelColor": "black", "labelLimit": 400,
             "encode": {"symbols": {"update": {
               "shape": {"signal": "datum.value === 'Actual trajectory' ? 'M-2,0H2M0.36,0A0.36,0.36,0,1,1,-0.36,0A0.36,0.36,0,1,1,0.36,0' : 'M-2,0H2'"},
               "fill": {"signal": "datum.value === 'Actual trajectory' ? '#0000ff' : 'transparent'"},
               "stroke": {"signal": "datum.value === 'Actual trajectory' ? '#0000ff' : datum.value === 'Logistic fit' ? '#ff0000' : '#b5b5b5'"},
               "strokeWidth": {"signal": "datum.value === 'Logistic fit' ? 5 : datum.value === 'Actual trajectory' ? 4 : 3"},
               "strokeDash": {"signal": "datum.value === 'Logistic fit' ? [19, 8] : datum.value === 'Actual trajectory' ? [1, 0] : [3, 6.5]"},
               "opacity": {"signal": "datum.value === 'Actual trajectory' ? 0.75 : 1"}
             }}}}}}},
        {"data": {"name": "traj"}, "mark": {"type": "line", "strokeWidth": 5, "opacity": 0.7, "interpolate": "monotone", "clip": true},
         "encoding": {"y": {"field": "f", "type": "quantitative", "title": "Population (Species 9)", "scale": {"domain": [0.8812, 1.2254], "nice": false, "zero": false}, "axis": {"values": [0.9, 1.0, 1.1, 1.2], "format": ".1f"}},
           "color": {"datum": "Actual trajectory", "scale": {"domain": ["Actual trajectory", "Logistic fit", "Fit window (t ≤ 4)"], "range": ["#0000ff", "#ff0000", "#b5b5b5"]}}}},
        {"data": {"name": "traj"}, "mark": {"type": "point", "filled": true, "size": 80, "opacity": 0.7, "strokeWidth": 0, "clip": true},
         "encoding": {"y": {"field": "f", "type": "quantitative", "title": "Population (Species 9)"},
           "color": {"datum": "Actual trajectory", "scale": {"domain": ["Actual trajectory", "Logistic fit", "Fit window (t ≤ 4)"], "range": ["#0000ff", "#ff0000", "#b5b5b5"]}}}},
        {"data": {"name": "fit"}, "transform": [{"filter": "datum.p == 6"}], "mark": {"type": "line", "strokeWidth": 5, "strokeDash": [19, 8], "interpolate": "monotone", "clip": true},
         "encoding": {"y": {"field": "y", "type": "quantitative", "title": "Population (Species 9)"},
           "color": {"datum": "Logistic fit", "scale": {"domain": ["Actual trajectory", "Logistic fit", "Fit window (t ≤ 4)"], "range": ["#0000ff", "#ff0000", "#b5b5b5"]}}}}
      ]
    }
  ],
  "config": {
    "font": "DejaVu Sans",
    "view": {"stroke": "black", "strokeWidth": 1.7},
    "title": {"fontSize": 25, "fontWeight": "normal", "color": "black", "offset": 8, "frame": "group", "anchor": "middle"},
    "axis": {"labelFontSize": 23, "titleFontSize": 23, "titleFontWeight": "normal", "labelColor": "black", "titleColor": "black", "tickColor": "black", "tickSize": 7, "tickWidth": 1.6, "domain": false, "grid": true, "gridColor": "#dddddd", "gridWidth": 1.5, "labelPadding": 10, "titlePadding": 18, "labelFlush": false, "labelOverlap": false},
    "axisX": {"titlePadding": 10}
  }
}
